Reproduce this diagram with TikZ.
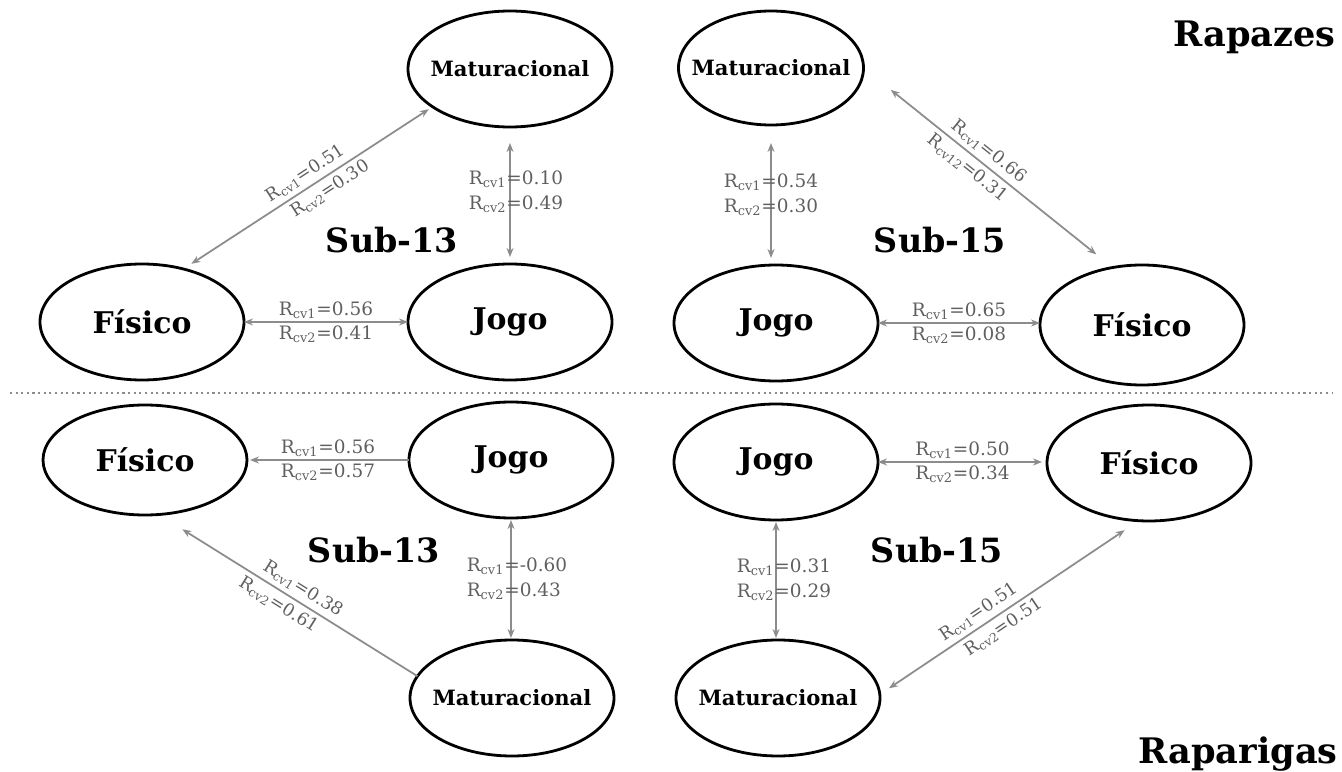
\documentclass[tikz,border=0pt]{standalone}
\usepackage{fontspec}
\setmainfont{DejaVu Serif}
\usepackage{tikz}
\usetikzlibrary{arrows.meta,shapes.geometric}
\definecolor{cvgray}{HTML}{8C8C8C}
\definecolor{cvtext}{HTML}{5F5F5F}
\newcommand{\Rcv}[2]{R\textsubscript{cv#1}=#2}

\begin{document}
\begin{tikzpicture}[
  x=0.2mm,y=-0.2mm,
  every node/.style={align=center},
  factor/.style={ellipse,draw=black,line width=1.6pt,minimum width=40.8mm,minimum height=23.2mm,inner sep=0pt,outer sep=0pt,font=\bfseries\fontsize{17}{20}\selectfont},
  matur/.style={factor,inner xsep=-4mm,font=\bfseries\fontsize{12}{14}\selectfont},
  agegroup/.style={font=\bfseries\fontsize{19}{22}\selectfont},
  sexgroup/.style={anchor=base east,inner sep=0pt,font=\bfseries\fontsize{20}{24}\selectfont},
  corr/.style={font=\fontsize{10.5}{14}\selectfont,text=cvtext,inner sep=1.5pt},
  slopecorr/.style={corr,sloped,inner sep=2.4pt,font=\fontsize{10}{12}\selectfont},
  link/.style={{Stealth[length=1.8mm,width=1.4mm]}-{Stealth[length=1.8mm,width=1.4mm]},line width=1pt,color=cvgray},
  tolink/.style={{Stealth[length=1.8mm,width=1.4mm]}-,line width=1pt,color=cvgray}
]
\useasboundingbox (0,0) rectangle (1342,772);
\node[matur] (mat1) at (510,69) {Maturacional};
\node[factor] (fis1) at (142,322) {Físico};
\node[factor] (jogo1) at (510,322) {Jogo};
\node[matur,minimum width=37mm,minimum height=22.8mm] (mat2) at (771,68) {Maturacional};
\node[factor] (jogo2) at (776,323) {Jogo};
\node[factor,minimum height=24mm] (fis2) at (1142,325) {Físico};
\node[factor,minimum height=22mm] (fis3) at (145,460) {Físico};
\node[factor] (jogo3) at (511,460) {Jogo};
\node[matur] (mat3) at (512,698) {Maturacional};
\node[factor] (jogo4) at (776,462) {Jogo};
\node[factor] (fis4) at (1149,463) {Físico};
\node[matur] (mat4) at (778,698) {Maturacional};
\node[agegroup] (sub13a) at (392,240) {Sub-13};
\node[agegroup] (sub15a) at (940,240) {Sub-15};
\node[agegroup] (sub13b) at (374,550) {Sub-13};
\node[agegroup] (sub15b) at (937,550) {Sub-15};
\node[sexgroup] (rapazes) at (1336,47) {Rapazes};
\node[sexgroup] (raparigas) at (1338,763) {Raparigas};
\draw[cvgray,line width=1.2pt,dash pattern=on 1.2pt off 2pt] (10,393) -- (1332,393);
% rapazes
\draw[link] (fis1.east) -- (jogo1.west)
  node[corr,midway,above] {\Rcv{1}{0.56}} node[corr,midway,below] {\Rcv{2}{0.41}};
\draw[link,shorten <=3.2mm,shorten >=1.4mm] (mat1.south) -- (mat1.south |- jogo1.north)
  node[corr,midway,align=left,xshift=1.2mm,yshift=0.7mm] {\Rcv{1}{0.10}\\\Rcv{2}{0.49}};
\draw[link,shorten <=1.9mm,shorten >=0.9mm] (fis1.52) -- (mat1.206)
  node[slopecorr,pos=0.52,above] {\Rcv{1}{0.51}} node[slopecorr,pos=0.56,below] {\Rcv{2}{0.30}};
\draw[link] (jogo2.east) -- (jogo2.east -| fis2.west)
  node[corr,midway,above] {\Rcv{1}{0.65}} node[corr,midway,below] {\Rcv{2}{0.08}};
\draw[link,shorten <=3.6mm,shorten >=1.4mm] (mat2.south) -- (mat2.south |- jogo2.north)
  node[corr,midway,align=left] {\Rcv{1}{0.54}\\\Rcv{2}{0.30}};
\draw[link,shorten <=7mm,shorten >=4.2mm] (mat2.east) -- (fis2.117)
  node[slopecorr,pos=0.47,above] {\Rcv{1}{0.66}} node[slopecorr,pos=0.45,below] {\Rcv{12}{0.31}};
% raparigas
\draw[tolink,shorten <=0.6mm] (fis3.east) -- (jogo3.west)
  node[corr,midway,above] {\Rcv{1}{0.56}} node[corr,midway,below] {\Rcv{2}{0.57}};
\draw[link,shorten <=0.4mm,shorten >=0.4mm] (jogo3.south) -- (jogo3.south |- mat3.north)
  node[corr,midway,align=left,xshift=1.2mm] {\Rcv{1}{-0.60}\\\Rcv{2}{0.43}};
\draw[tolink,shorten <=5.6mm] (fis3.-76) -- (mat3.167)
  node[slopecorr,pos=0.53,above] {\Rcv{1}{0.38}} node[slopecorr,pos=0.49,below] {\Rcv{2}{0.61}};
\draw[link,shorten >=1mm] (jogo4.east) -- (jogo4.east -| fis4.west)
  node[corr,midway,above] {\Rcv{1}{0.50}} node[corr,midway,below] {\Rcv{2}{0.34}};
\draw[link,shorten <=0.4mm,shorten >=0.4mm] (jogo4.south) -- (jogo4.south |- mat4.north)
  node[corr,midway,align=left,xshift=1.6mm] {\Rcv{1}{0.31}\\\Rcv{2}{0.29}};
\draw[link,shorten <=2.2mm,shorten >=3.4mm] (mat4.2) -- (fis4.-100)
  node[slopecorr,pos=0.41,above] {\Rcv{1}{0.51}} node[slopecorr,pos=0.45,below] {\Rcv{2}{0.51}};
\end{tikzpicture}
\end{document}
